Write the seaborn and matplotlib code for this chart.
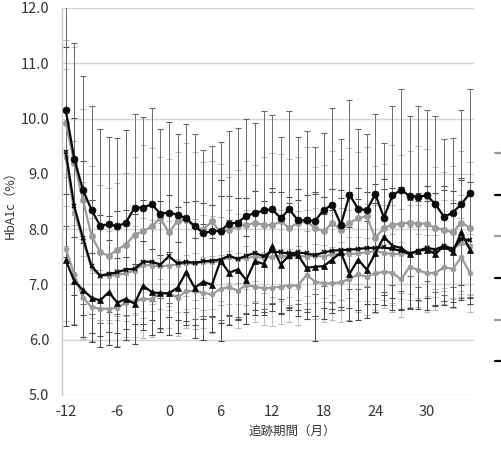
import numpy as np
import pandas as pd
import matplotlib
matplotlib.use("Agg")
import matplotlib.pyplot as plt
from matplotlib.lines import Line2D
import seaborn as sns

months = list(range(-12, 36))

# mean HbA1c (%) per series
s_a = [10.15, 9.27, 8.71, 8.35, 8.06, 8.09, 8.05, 8.12, 8.39, 8.39, 8.45, 8.28,
       8.30, 8.26, 8.20, 8.05, 7.93, 7.96, 7.97, 8.10, 8.12, 8.24, 8.29, 8.34,
       8.36, 8.20, 8.36, 8.16, 8.16, 8.15, 8.35, 8.44, 8.08, 8.62, 8.37, 8.34,
       8.63, 8.21, 8.61, 8.71, 8.60, 8.59, 8.61, 8.45, 8.22, 8.30, 8.45, 8.65]
s_b = [9.92, 9.20, 8.53, 7.88, 7.58, 7.52, 7.63, 7.72, 7.90, 7.96, 8.05, 8.20,
       7.94, 8.15, 8.17, 8.05, 7.99, 8.14, 7.94, 7.99, 8.05, 8.08, 8.11, 8.08,
       8.07, 8.14, 8.02, 8.11, 8.14, 8.02, 7.96, 8.11, 7.99, 8.11, 8.20, 8.23,
       7.84, 8.02, 8.08, 8.10, 8.12, 8.10, 8.10, 8.02, 7.99, 7.94, 8.12, 8.02]
s_c = [9.40, 8.41, 7.84, 7.33, 7.16, 7.19, 7.22, 7.27, 7.28, 7.41, 7.41, 7.36,
       7.51, 7.38, 7.41, 7.39, 7.42, 7.43, 7.45, 7.52, 7.46, 7.52, 7.57, 7.51,
       7.60, 7.58, 7.56, 7.58, 7.56, 7.53, 7.58, 7.61, 7.62, 7.63, 7.64, 7.66,
       7.66, 7.67, 7.64, 7.61, 7.55, 7.61, 7.66, 7.63, 7.70, 7.64, 7.82, 7.80]
s_d = [7.44, 7.06, 6.90, 6.76, 6.71, 6.86, 6.67, 6.74, 6.65, 6.98, 6.86, 6.84,
       6.84, 6.94, 7.22, 6.94, 7.05, 6.99, 7.43, 7.21, 7.27, 7.08, 7.42, 7.37,
       7.69, 7.36, 7.53, 7.53, 7.30, 7.32, 7.33, 7.45, 7.58, 7.19, 7.45, 7.27,
       7.56, 7.86, 7.70, 7.66, 7.55, 7.61, 7.63, 7.55, 7.70, 7.58, 7.94, 7.63]
s_e = [7.64, 7.18, 6.76, 6.59, 6.56, 6.56, 6.58, 6.67, 6.70, 6.74, 6.73, 6.84,
       6.84, 6.76, 6.88, 6.88, 6.85, 6.82, 6.92, 6.95, 6.89, 6.99, 6.96, 6.93,
       6.94, 6.96, 6.98, 6.98, 7.17, 7.05, 7.02, 7.02, 7.04, 7.10, 7.18, 7.14,
       7.20, 7.23, 7.21, 7.09, 7.32, 7.26, 7.20, 7.21, 7.31, 7.28, 7.49, 7.21]
s_f = [9.30, 8.30, 7.80, 7.30, 7.15, 7.16, 7.17, 7.20, 7.25, 7.36, 7.34, 7.33,
       7.34, 7.36, 7.38, 7.38, 7.40, 7.40, 7.42, 7.50, 7.46, 7.48, 7.50, 7.48,
       7.50, 7.52, 7.50, 7.52, 7.50, 7.52, 7.50, 7.55, 7.55, 7.55, 7.56, 7.58,
       7.60, 7.57, 7.55, 7.55, 7.57, 7.60, 7.67, 7.63, 7.70, 7.64, 7.75, 7.70]

# standard deviations (error bars)
sd_a = [2.10, 2.10, 2.06, 1.88, 1.75, 1.58, 1.59, 1.68, 1.69, 1.64, 1.75, 1.53,
        1.63, 1.46, 1.70, 1.67, 1.50, 1.55, 1.61, 1.67, 1.71, 1.75, 1.63, 1.79,
        1.70, 1.47, 1.77, 1.51, 1.61, 1.33, 1.38, 1.75, 1.55, 1.71, 1.45, 1.38,
        1.45, 1.34, 1.62, 1.83, 1.45, 1.64, 1.55, 1.59, 1.41, 1.34, 1.70, 1.88]
sd_b = [1.50, 2.10, 1.64, 1.27, 1.22, 1.22, 1.20, 1.30, 1.41, 1.56, 1.41, 1.10,
        1.33, 1.24, 1.38, 1.34, 1.23, 1.10, 1.24, 0.96, 1.02, 1.16, 1.05, 1.23,
        1.30, 1.22, 1.25, 1.20, 1.35, 1.10, 1.20, 1.30, 1.28, 1.35, 1.20, 1.25,
        1.30, 1.15, 1.45, 1.25, 1.30, 1.40, 1.35, 1.10, 1.05, 1.20, 1.30, 1.20]
sd_c = [1.90, 1.60, 1.40, 1.20, 1.10, 1.05, 1.10, 1.08, 1.00, 1.12, 1.05, 1.15,
        1.10, 1.02, 1.08, 1.12, 1.05, 1.00, 1.15, 1.08, 1.10, 1.05, 1.12, 1.00,
        1.08, 1.10, 1.02, 1.15, 1.05, 1.10, 1.00, 1.12, 1.08, 1.05, 1.10, 1.02,
        1.15, 1.05, 1.10, 1.08, 1.00, 1.05, 1.12, 1.02, 1.08, 1.05, 1.10, 1.05]
sd_d = [1.20, 0.80, 0.85, 0.80, 0.85, 0.95, 0.80, 0.75, 0.72, 0.80, 0.78, 0.70,
        0.75, 0.82, 0.95, 0.90, 1.05, 0.85, 1.45, 0.95, 0.90, 0.80, 0.88, 0.92,
        1.05, 0.90, 0.95, 1.00, 0.92, 1.35, 0.95, 0.90, 0.98, 0.85, 1.10, 0.88,
        0.92, 1.05, 0.95, 1.10, 0.98, 0.90, 0.88, 0.92, 1.00, 0.90, 0.95, 0.98]
sd_e = [1.30, 0.90, 0.75, 0.62, 0.70, 0.66, 0.70, 0.62, 0.65, 0.70, 0.68, 0.64,
        0.62, 0.70, 0.66, 0.68, 0.64, 0.70, 0.62, 0.66, 0.68, 0.70, 0.64, 0.66,
        0.70, 0.68, 0.66, 0.72, 0.80, 0.68, 0.70, 0.66, 0.72, 0.75, 0.68, 0.70,
        0.72, 0.66, 0.70, 0.68, 0.72, 0.66, 0.70, 0.68, 0.66, 0.70, 0.72, 0.70]
sd_f = [1.60, 1.30, 1.05, 0.90, 0.85, 0.80, 0.82, 0.86, 0.80, 0.84, 0.82, 0.78,
        0.80, 0.85, 0.82, 0.80, 0.86, 0.84, 0.80, 0.85, 0.82, 0.86, 0.80, 0.84,
        0.86, 0.82, 0.88, 0.80, 0.84, 0.86, 0.82, 0.88, 0.84, 0.80, 0.86, 0.88,
        0.84, 0.86, 0.88, 0.82, 0.86, 0.84, 0.88, 0.86, 0.82, 0.88, 0.86, 0.90]

BLACK = "#0a0a0a"
GRAY = "#9a9a9a"

series = [
    # name, means, sds, line colour, marker, markersize, errbar colour
    ("s_e", s_e, sd_e, GRAY, "o", 3.5, "#bdbdbd"),
    ("s_f", s_f, sd_f, GRAY, "s", 3.0, "#bdbdbd"),
    ("s_b", s_b, sd_b, GRAY, "o", 4.5, "#bdbdbd"),
    ("s_d", s_d, sd_d, BLACK, "^", 4.0, "#4a4a4a"),
    ("s_c", s_c, sd_c, BLACK, "x", 3.5, "#4a4a4a"),
    ("s_a", s_a, sd_a, BLACK, "o", 5.0, "#6a6a6a"),
]

sns.set_style("white")
plt.rcParams["font.family"] = ["Noto Sans CJK JP", "DejaVu Sans"]
plt.rcParams["axes.unicode_minus"] = False

fig = plt.figure(figsize=(5.02, 4.54), dpi=100)
ax = fig.add_axes([61.7 / 502, 1 - 395 / 454, 412.3 / 502, 387 / 454])

for name, mean, sd, col, mk, ms, ecol in series:
    ax.errorbar(months, mean, yerr=sd, fmt="none", ecolor=ecol,
                elinewidth=0.7, capsize=2.3, capthick=0.8, zorder=1)

for name, mean, sd, col, mk, ms, ecol in series:
    df = pd.DataFrame({"month": months, "hba1c": mean})
    sns.lineplot(data=df, x="month", y="hba1c", ax=ax, color=col,
                 linewidth=1.6, marker=mk, markersize=ms,
                 markeredgecolor=col, markerfacecolor=col,
                 markeredgewidth=1.1 if mk == "x" else 0.5,
                 errorbar=None, zorder=3)

ax.set_xlim(-12.47, 35.48)
ax.set_ylim(5.0, 12.0)
ax.set_xticks([-12, -6, 0, 6, 12, 18, 24, 30])
ax.set_yticks(np.arange(5.0, 12.01, 1.0))
ax.set_yticklabels([f"{v:.1f}" for v in np.arange(5.0, 12.01, 1.0)])
ax.grid(axis="y", color="#d4d4d4", linewidth=1.0)
ax.grid(axis="x", visible=False)
ax.set_axisbelow(True)
for sp in ["top", "right", "bottom"]:
    ax.spines[sp].set_visible(False)
ax.spines["left"].set_color("#c8c8c8")
ax.spines["left"].set_linewidth(1.0)
ax.tick_params(axis="both", length=0, labelsize=10.5, colors="#333333")
ax.tick_params(axis="y", pad=9)
ax.tick_params(axis="x", pad=7)

ax.set_xlabel("追跡期間（月）", fontsize=9, color="#333333")
ax.xaxis.set_label_coords((292 - 61.7) / 412.3, -0.078)
ax.set_ylabel("HbA1c（%）", fontsize=9, color="#333333")
ax.yaxis.set_label_coords(-0.11, 0.5)

# legend (labels are cut off at the right edge in the reference)
order = [2, 5, 1, 4, 0, 3]
handles = []
for i in order:
    name, mean, sd, col, mk, ms, ecol = series[i]
    handles.append(Line2D([0], [0], color=col, linewidth=1.6, marker=mk,
                          markersize=ms * 0.7, markerfacecolor=col,
                          markeredgecolor=col))
leg = ax.legend(handles, [""] * 6, loc="upper left",
                bbox_to_anchor=(495 / 502, (454 - 149) / 454),
                bbox_transform=fig.transFigure, frameon=False,
                handlelength=1.6, labelspacing=2.85, fontsize=8,
                borderpad=0, borderaxespad=0)

fig.savefig("out.png", dpi=100)
